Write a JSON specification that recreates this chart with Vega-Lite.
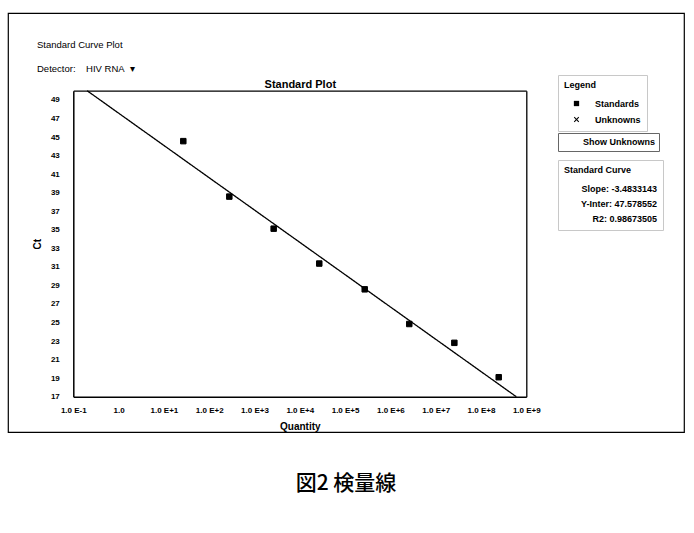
{
  "$schema": "https://vega.github.io/schema/vega-lite/v6.json",
  "padding": {"left": 7, "top": 12, "right": 0, "bottom": 0},
  "autosize": {"type": "pad"},
  "background": "white",
  "config": {
    "font": "Liberation Sans",
    "view": {"stroke": null},
    "concat": {"spacing": 0},
    "axis": {"grid": false, "ticks": false, "domainColor": "black", "labelColor": "black", "titleColor": "black"}
  },
  "datasets": {
    "standards": [
      {"quantity": 26.8, "ct": 44.56, "kind": "Standards"},
      {"quantity": 278, "ct": 38.58, "kind": "Standards"},
      {"quantity": 2650, "ct": 35.12, "kind": "Standards"},
      {"quantity": 26900, "ct": 31.36, "kind": "Standards"},
      {"quantity": 271000, "ct": 28.58, "kind": "Standards"},
      {"quantity": 2610000, "ct": 24.84, "kind": "Standards"},
      {"quantity": 25800000, "ct": 22.81, "kind": "Standards"},
      {"quantity": 246000000, "ct": 19.1, "kind": "Standards"}
    ],
    "fit": [
      {"quantity": 0.2017, "ct": 50.0},
      {"quantity": 600400000, "ct": 17.0}
    ],
    "caption": [{"text": "図2 検量線"}]
  },
  "vconcat": [
    {
      "width": 676,
      "height": 419,
      "view": {"stroke": "black", "strokeWidth": 1.2, "fill": "white"},
      "title": {
        "text": "Standard Curve Plot",
        "subtitle": "Detector:\u00a0\u00a0\u00a0\u00a0HIV RNA\u00a0\u00a0▾",
        "anchor": "start",
        "frame": "group",
        "offset": -60,
        "dx": 29,
        "font": "Liberation Sans",
        "fontSize": 9.5,
        "fontWeight": "normal",
        "color": "black",
        "subtitleFont": "Liberation Sans",
        "subtitleFontSize": 9.5,
        "subtitleColor": "black",
        "subtitlePadding": 14
      },
      "layer": [
        {
          "data": {"name": "fit"},
          "mark": {"type": "line", "strokeWidth": 1.3},
          "encoding": {
            "x": {
              "field": "quantity",
              "type": "quantitative",
              "scale": {"type": "log", "domain": [0.1, 1000000000], "range": [65.3, 518.3], "nice": false},
              "axis": {
                "orient": "top",
                "offset": -77.7,
                "labels": false,
                "domainWidth": 1.3,
                "title": "Standard Plot",
                "titleFontSize": 11,
                "titleFontWeight": "bold",
                "titlePadding": 1
              }
            },
            "y": {
              "field": "ct",
              "type": "quantitative",
              "scale": {"domain": [17, 50], "range": [383.7, 77.7], "zero": false, "nice": false},
              "axis": {"orient": "right", "offset": -157.7, "labels": false, "title": null, "domainWidth": 1.3}
            },
            "color": {
              "datum": "Slope: -3.4833143",
              "type": "nominal",
              "scale": {
                "domain": ["Slope: -3.4833143", "Y-Inter: 47.578552", "R2: 0.98673505"],
                "range": ["black", "black", "black"]
              },
              "legend": {
                "title": "Standard Curve",
                "orient": "none",
                "legendX": 550,
                "legendY": 147,
                "padding": 6,
                "strokeColor": "#c8c8c8",
                "titleFontSize": 9,
                "titleFontWeight": "bold",
                "titleColor": "black",
                "titlePadding": 9,
                "labelFontSize": 9,
                "labelFontWeight": "bold",
                "labelColor": "black",
                "labelAlign": "right",
                "labelOffset": 84,
                "symbolOpacity": 0,
                "symbolStrokeWidth": 0,
                "symbolSize": 1,
                "rowPadding": 5
              }
            },
            "strokeDash": {
              "datum": "Show Unknowns",
              "type": "nominal",
              "scale": {"domain": ["Show Unknowns"], "range": [[1, 0]]},
              "legend": {
                "title": null,
                "orient": "none",
                "legendX": 550,
                "legendY": 120,
                "padding": 4,
                "strokeColor": "#666666",
                "labelFontSize": 9,
                "labelFontWeight": "bold",
                "labelColor": "black",
                "labelOffset": 12,
                "symbolOpacity": 0,
                "symbolStrokeWidth": 0,
                "symbolSize": 1
              }
            }
          }
        },
        {
          "data": {"name": "standards"},
          "mark": {"type": "point", "filled": true, "size": 30, "color": "black", "stroke": "black", "strokeWidth": 1, "opacity": 1},
          "encoding": {
            "x": {
              "field": "quantity",
              "type": "quantitative",
              "scale": {"type": "log", "domain": [0.1, 1000000000], "range": [65.3, 518.3], "nice": false},
              "axis": {
                "orient": "bottom",
                "offset": -35.3,
                "values": [0.1, 1, 10, 100, 1000, 10000, 100000, 1000000, 10000000, 100000000, 1000000000],
                "labelExpr": "datum.value == 1 ? '1.0' : '1.0 E' + (datum.value > 1 ? '+' : '') + round(log(datum.value) / LN10)",
                "labelFontSize": 8,
                "labelFontWeight": "bold",
                "labelPadding": 10,
                "labelFlush": false,
                "labelOverlap": false,
                "domainWidth": 1.5,
                "title": "Quantity",
                "titleFontSize": 10,
                "titleFontWeight": "bold",
                "titlePadding": 7
              }
            },
            "y": {
              "field": "ct",
              "type": "quantitative",
              "scale": {"domain": [17, 50], "range": [383.7, 77.7], "zero": false, "nice": false},
              "axis": {
                "orient": "left",
                "offset": -65.3,
                "values": [17, 19, 21, 23, 25, 27, 29, 31, 33, 35, 37, 39, 41, 43, 45, 47, 49],
                "labelFontSize": 8,
                "labelFontWeight": "bold",
                "labelPadding": 14,
                "labelFlush": false,
                "labelOverlap": false,
                "domainWidth": 1.5,
                "title": "Ct",
                "titleFontSize": 10,
                "titleFontWeight": "bold",
                "titlePadding": 8
              }
            },
            "shape": {
              "field": "kind",
              "type": "nominal",
              "scale": {
                "domain": ["Standards", "Unknowns"],
                "range": ["square", "M-1,-0.72L-0.72,-1L0,-0.28L0.72,-1L1,-0.72L0.28,0L1,0.72L0.72,1L0,0.28L-0.72,1L-1,0.72L-0.28,0Z"]
              },
              "legend": {
                "title": "Legend",
                "orient": "none",
                "legendX": 550,
                "legendY": 62,
                "padding": 6,
                "strokeColor": "#c8c8c8",
                "titleFontSize": 9,
                "titleFontWeight": "bold",
                "titleColor": "black",
                "titlePadding": 9,
                "labelFontSize": 9,
                "labelFontWeight": "bold",
                "labelColor": "black",
                "symbolOffset": 8,
                "labelOffset": 14,
                "symbolSize": 28,
                "symbolFillColor": "black",
                "symbolStrokeColor": "black",
                "symbolStrokeWidth": 0.5,
                "rowPadding": 6
              }
            }
          }
        }
      ],
      "resolve": {"scale": {"x": "independent", "y": "independent"}}
    },
    {
      "width": 676,
      "height": 102,
      "data": {"name": "caption"},
      "mark": {"type": "text", "font": "Noto Sans CJK JP", "fontSize": 21, "fontWeight": 500, "color": "black"},
      "encoding": {"text": {"field": "text", "type": "nominal"}}
    }
  ]
}
